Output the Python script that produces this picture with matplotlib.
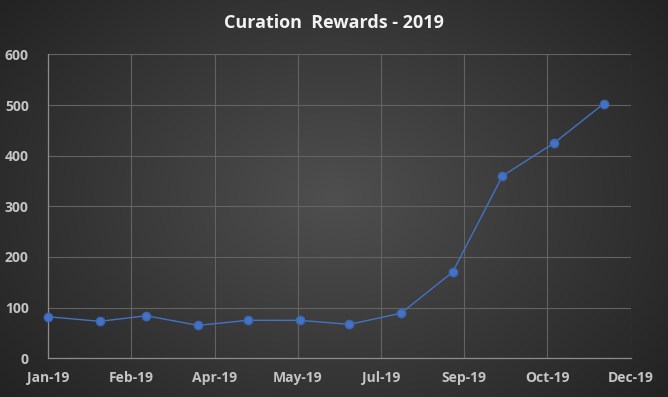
import numpy as np
import matplotlib
matplotlib.use('Agg')
import matplotlib.pyplot as plt
import matplotlib.dates as mdates
from datetime import date, timedelta

plt.rcParams['font.family'] = ['Open Sans', 'DejaVu Sans']

# monthly curation rewards, 2019
months = ['2019-01-01', '2019-02-01', '2019-03-01', '2019-04-01', '2019-05-01', '2019-06-01',
          '2019-07-01', '2019-08-01', '2019-09-01', '2019-10-01', '2019-11-01', '2019-12-01']
rewards = [82, 73, 84, 65, 75, 75, 67, 89, 170, 360, 425, 503]
y_ticks = [0, 100, 200, 300, 400, 500, 600]

dates = [date.fromisoformat(m) for m in months]
start = date(2019, 1, 1)
tick_dates = [start + timedelta(days=50 * i) for i in range(8)]

fig = plt.figure(figsize=(6.68, 3.97), dpi=100)

# radial gradient background like the excel style
bg = fig.add_axes([0, 0, 1, 1], zorder=-10)
xx, yy = np.meshgrid(np.linspace(-1, 1, 668), np.linspace(-1, 1, 397))
r = np.sqrt((xx * 1.0) ** 2 + (yy * 0.8) ** 2)
shade = 0.31 - 0.17 * np.clip(r / 1.25, 0, 1)
img = np.dstack([shade, shade, shade])
bg.imshow(img, aspect='auto', extent=[0, 1, 0, 1])
bg.axis('off')

ax = fig.add_axes([0.0723, 0.0975, 0.8717, 0.7655])
ax.patch.set_alpha(0)
ax.plot(dates, rewards, color='#4472C4', linewidth=1, marker='o', markersize=6,
        markerfacecolor='#4472C4', markeredgecolor='#3b66b5', zorder=3, clip_on=False)

ax.set_xlim(start, tick_dates[-1])
ax.set_ylim(0, 600)
ax.set_yticks(y_ticks)
ax.set_xticks(tick_dates)
ax.xaxis.set_major_formatter(mdates.DateFormatter('%b-%y'))

ax.grid(True, color='#636363', linewidth=0.8)
ax.set_axisbelow(True)
for s in ['top', 'right']:
    ax.spines[s].set_visible(False)
for s in ['left', 'bottom']:
    ax.spines[s].set_color('#8c8c8c')
    ax.spines[s].set_linewidth(0.9)

ax.tick_params(length=0, colors='#c4c4c4', labelsize=10)
ax.tick_params(axis='x', pad=9)
ax.tick_params(axis='y', pad=14)
for lab in ax.get_xticklabels() + ax.get_yticklabels():
    lab.set_fontweight('bold')

fig.text(0.5, 0.942, 'Curation  Rewards - 2019', ha='center', va='center',
         color='#f2f2f2', fontsize=13, fontweight='bold')

plt.savefig('out.png', dpi=100)
